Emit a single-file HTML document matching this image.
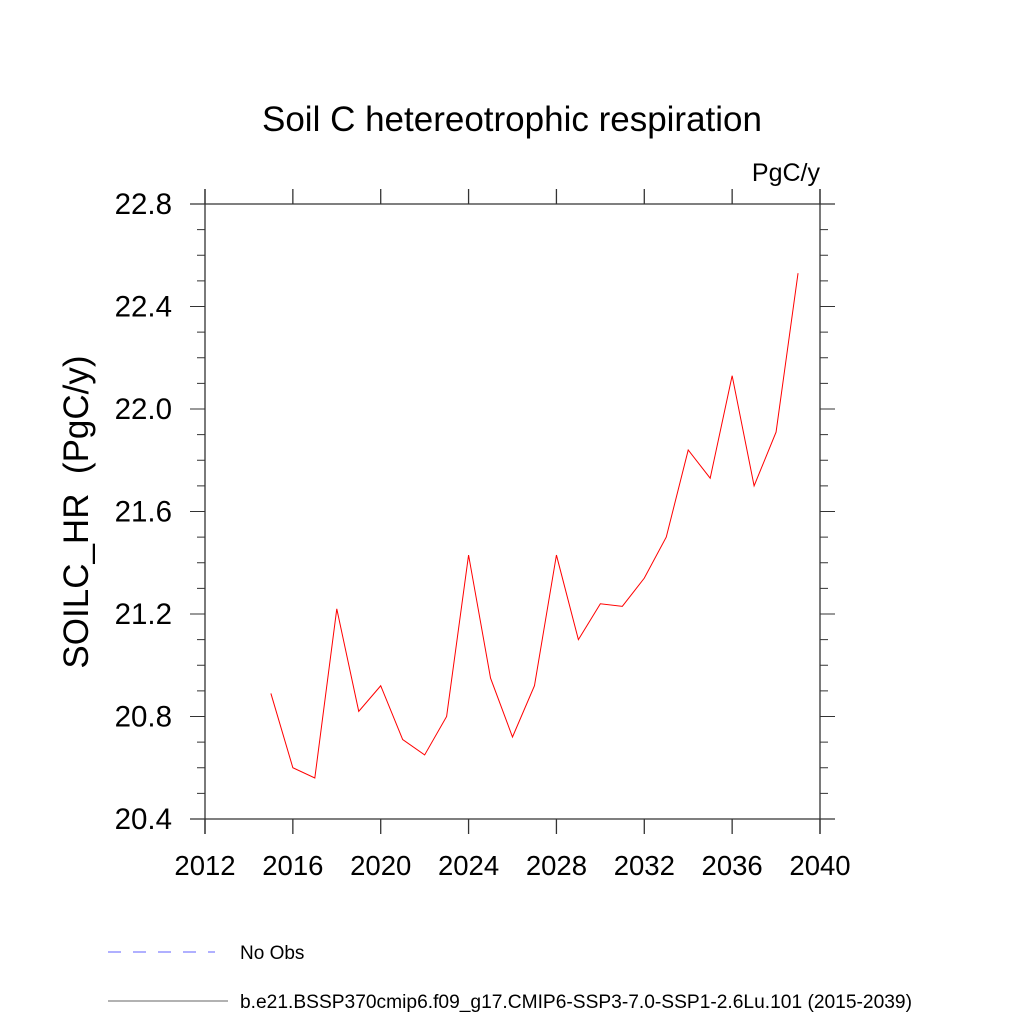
<!DOCTYPE html>
<html><head><meta charset="utf-8"><style>
body{margin:0;background:#fff;}
svg text{font-family:"Liberation Sans",sans-serif;fill:#000;}
</style></head><body>
<svg id="chart" width="1024" height="1024" xmlns="http://www.w3.org/2000/svg">
<rect width="1024" height="1024" fill="#fff"/>
<text x="512" y="131" font-size="35" text-anchor="middle">Soil C hetereotrophic respiration</text>
<text x="820" y="181" font-size="25" text-anchor="end">PgC/y</text>
<text transform="translate(88,512) rotate(-90)" font-size="35" text-anchor="middle" xml:space="preserve" style="white-space:pre">SOILC_HR  (PgC/y)</text>
<g id="axes"></g>
<g id="series"></g>
<line x1="108" y1="952" x2="215" y2="952" stroke="#6060ff" stroke-width="1" stroke-dasharray="13,12"/>
<text x="240" y="959" font-size="19">No Obs</text>
<line x1="108" y1="1001" x2="228" y2="1001" stroke="#666" stroke-width="1"/>
<text x="240" y="1008" font-size="19.2">b.e21.BSSP370cmip6.f09_g17.CMIP6-SSP3-7.0-SSP1-2.6Lu.101 (2015-2039)</text>
</svg>
<script>
const years=[2015,2016,2017,2018,2019,2020,2021,2022,2023,2024,2025,2026,2027,2028,2029,2030,2031,2032,2033,2034,2035,2036,2037,2038,2039];
const values=[20.89,20.60,20.56,21.22,20.82,20.92,20.71,20.65,20.80,21.43,20.95,20.72,20.92,21.43,21.10,21.24,21.23,21.34,21.50,21.84,21.73,22.13,21.70,21.91,22.53];
const xTicks=[2012,2016,2020,2024,2028,2032,2036,2040];
const yTicks=[20.4,20.8,21.2,21.6,22.0,22.4,22.8];
const yTickLabels=["20.4","20.8","21.2","21.6","22.0","22.4","22.8"];
const L=205,R=820,T=204,B=819;
const x=v=>L+(v-2012)/(2040-2012)*(R-L);
const y=v=>B-(v-20.4)/(22.8-20.4)*(B-T);
const NS="http://www.w3.org/2000/svg";
const ax=document.getElementById('axes');
function ln(x1,y1,x2,y2,name,w){const e=document.createElementNS(NS,'line');
e.setAttribute('x1',x1);e.setAttribute('y1',y1);e.setAttribute('x2',x2);e.setAttribute('y2',y2);
e.setAttribute('stroke','#333');e.setAttribute('stroke-width',w||1.3);


ax.appendChild(e);}
ln(L,T-15,L,B+15,'left-axis-line');ln(R,T-15,R,B+15,'right-axis-line');
ln(L-15,T,R+15,T,'top-axis-line');ln(L-15,B,R+15,B,'bottom-axis-line');
xTicks.forEach(t=>{const px=x(t);ln(px,B,px,B+15,'x-tick');ln(px,T,px,T-15,'x-tick-top');
const tx=document.createElementNS(NS,'text');tx.setAttribute('x',px);tx.setAttribute('y',B+56);
tx.setAttribute('font-size','27.5');tx.setAttribute('text-anchor','middle');tx.textContent=t;


ax.appendChild(tx);});
for(let v=20.4;v<=22.81;v+=0.1){const py=y(v);const major=Math.abs((v-20.4)/0.4-Math.round((v-20.4)/0.4))<0.01;
const len=major?15:8;ln(L-len,py,L,py,'y-tick',1);ln(R,py,R+len,py,'y-tick-right',1);}
yTicks.forEach((t,i)=>{const tx=document.createElementNS(NS,'text');tx.setAttribute('x',L-33);tx.setAttribute('y',y(t)+10);
tx.setAttribute('font-size','29.5');tx.setAttribute('text-anchor','end');tx.textContent=yTickLabels[i];


ax.appendChild(tx);});
const p=document.createElementNS(NS,'polyline');
p.setAttribute('points',years.map((yr,i)=>x(yr)+','+y(values[i])).join(' '));
p.setAttribute('fill','none');p.setAttribute('stroke','#ff0000');p.setAttribute('stroke-width','1');


document.getElementById('series').appendChild(p);
</script>
</body></html>
